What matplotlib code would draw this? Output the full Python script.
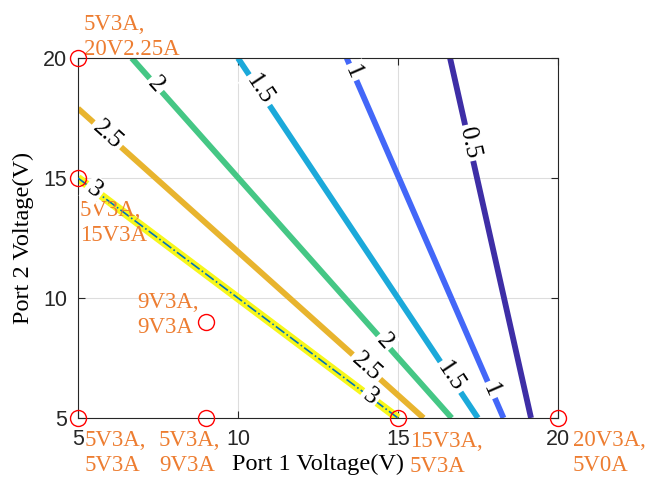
import numpy as np
import matplotlib
matplotlib.use("Agg")
import matplotlib.pyplot as plt

# contour levels (current, A) and their straight-line end points
levels = [0.5, 1, 1.5, 2, 2.5, 3]
x_start = [16.63, 13.4, 10.0, 6.68, 5.0, 5.0]
y_start = [20, 20, 20, 20, 17.9, 15]
x_end = [19.16, 18.3, 17.5, 16.68, 15.8, 15.0]
y_end = [5, 5, 5, 5, 5, 5]
line_colors = ['#3E2EA6', '#4367F8', '#1BA9DA', '#45C785', '#E8B42E', '#F7F71A']

# where the inline labels sit, as fraction along each line
label_pos = [[0.236], [0.039, 0.922], [0.089, 0.886], [0.075, 0.789], [0.085, 0.835], [0.05, 0.9125]]

# operating points
pt_x = [5, 5, 5, 9, 9, 15, 20]
pt_y = [20, 15, 5, 5, 9, 5, 5]
pt_text = ['5V3A,\n20V2.25A', '5V3A,\n15V3A', '5V3A,\n5V3A', '5V3A,\n9V3A',
           '9V3A,\n9V3A', '15V3A,\n5V3A', '20V3A,\n5V0A']
pt_offset = [(6, 44), (2, -22), (7, -12), (-47, -12), (-69, 30), (12, -13), (15, -12)]

fig = plt.figure(figsize=(6.61, 4.87), dpi=100)
ax = fig.add_axes([0.118, 0.1417, 0.726, 0.739])
ax.set_xlim(5, 20)
ax.set_ylim(5, 20)
ax.set_xticks([5, 10, 15, 20])
ax.set_yticks([5, 10, 15, 20])
ax.grid(True, color='#DDDDDD', linewidth=0.8)
ax.set_axisbelow(True)
ax.tick_params(direction='in', top=True, right=True, length=5, labelsize=15.5,
               colors='#262626', pad=8)
for lab in ax.get_xticklabels() + ax.get_yticklabels():
    lab.set_fontfamily('Liberation Sans')
for s in ax.spines.values():
    s.set_color('#262626')

ax.set_xlabel('Port 1 Voltage(V)', family='Liberation Serif', fontsize=17.5, labelpad=3)
ax.set_ylabel('Port 2 Voltage(V)', family='Liberation Serif', fontsize=17.5, labelpad=6)

for i, lv in enumerate(levels):
    xs = [x_start[i], x_end[i]]
    ys = [y_start[i], y_end[i]]
    lw = 6 if lv == 3 else 4.2
    ax.plot(xs, ys, color=line_colors[i], linewidth=lw, solid_capstyle='butt', zorder=2)
    if lv == 3:
        ax.plot(xs, ys, color='#0072BD', linewidth=1.2, linestyle='-.', zorder=3)
    p1 = ax.transData.transform((xs[0], ys[0]))
    p2 = ax.transData.transform((xs[1], ys[1]))
    ang = np.degrees(np.arctan2(p2[1] - p1[1], p2[0] - p1[0]))
    for t in label_pos[i]:
        lx = xs[0] + t * (xs[1] - xs[0])
        ly = ys[0] + t * (ys[1] - ys[0])
        ax.text(lx, ly, '%g' % lv, rotation=ang, rotation_mode='anchor',
                ha='center', va='center', family='Liberation Serif', fontsize=18,
                bbox=dict(facecolor='white', edgecolor='none', pad=2), zorder=4)

ax.plot(pt_x, pt_y, 'o', markerfacecolor='none', markeredgecolor='#FF0000',
        markersize=11.5, markeredgewidth=1, clip_on=False, zorder=5)
for x, y, s, off in zip(pt_x, pt_y, pt_text, pt_offset):
    ax.annotate(s, (x, y), xytext=off, textcoords='offset pixels', ha='left', va='top',
                color='#ED7D31', family='Liberation Serif', fontsize=16.5,
                linespacing=1.25, annotation_clip=False)

fig.savefig('out.png', dpi=100)
